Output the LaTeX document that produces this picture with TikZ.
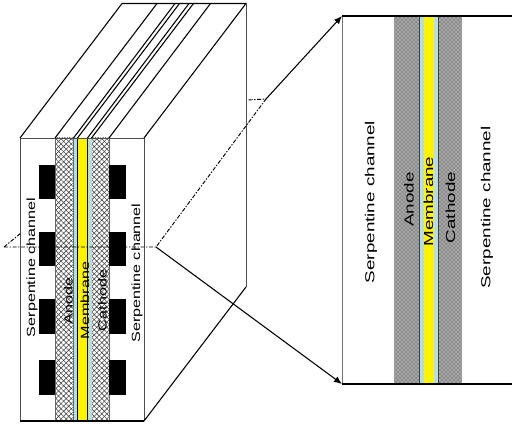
\documentclass[tikz,border=0pt]{standalone}
\usepackage{fontspec}
\setmainfont{Liberation Sans}
\usepackage{tikz}
\usetikzlibrary{arrows.meta,patterns,patterns.meta}

\definecolor{gdlblue}{HTML}{B5DDE3}
\newcommand{\smalltxt}[1]{\fontsize{8.9pt}{10pt}\selectfont\scalebox{1.36}[1]{#1}}
\newcommand{\largetxt}[1]{\fontsize{9.8pt}{11pt}\selectfont\scalebox{1.44}[1]{#1}}

\tikzset{
    edgeline/.style={black, line width=.8pt},
    greyline/.style={black!70, line width=.7pt},
    dashline/.style={black, line width=.7pt, dash pattern=on 3pt off 1.2pt on 1pt off 1.2pt},
    arrowline/.style={black, line width=.8pt, -{Latex[length=6pt,width=5pt]}},
    block/.style={fill=black, draw=none},
    coarse/.style={pattern={Hatch[angle=45,distance=2.7pt,line width=.45pt]}, pattern color=black!70, draw=black!60, line width=.4pt},
    fine/.style={fill=black!45},
    finedots/.style={pattern=crosshatch dots, pattern color=white},
    sidetxt/.style={rotate=90, inner sep=0pt, text=black},
}

\begin{document}
\begin{tikzpicture}[x=.75pt, y=-.75pt]
        \useasboundingbox (0, 0) rectangle (512, 424);

        % block, front face
        \coordinate (f1) at (20, 138);
        \coordinate (f2) at (144, 138);
        \coordinate (f3) at (144, 421);
        \coordinate (f4) at (20, 421);
        \coordinate (b1) at (122, 3.5);
        \coordinate (b2) at (246, 3.5);
        \coordinate (b3) at (246, 287);

        % cut plane and zoom
        \coordinate (cutL) at (4, 247);
        \coordinate (cutR) at (156, 247);
        \coordinate (cutF) at (21, 233);
        \coordinate (cutB) at (266, 99);
        \coordinate (cutE) at (247, 100);
        \coordinate (zoomT) at (342, 16);
        \coordinate (zoomB) at (342, 384);
        \coordinate (zoomTR) at (512, 16);
        \coordinate (zoomBR) at (512, 384);

        % layers of the block
        \filldraw[coarse] (55, 138) rectangle (73.5, 421);
        \filldraw[coarse] (91.5, 138) rectangle (109, 421);
        \fill[gdlblue] (73.5, 138) rectangle (77.5, 421);
        \fill[gdlblue] (87.5, 138) rectangle (91.5, 421);
        \filldraw[fill=yellow, draw=black, line width=.5pt] (77.5, 138) rectangle (87.5, 421);

        % channel ribs
        \fill[block] (39, 165) rectangle (55, 199);
        \fill[block] (39, 232) rectangle (55, 266);
        \fill[block] (39, 299) rectangle (55, 334);
        \fill[block] (39, 360) rectangle (55, 395);
        \fill[block] (109, 165) rectangle (126, 199);
        \fill[block] (109, 232) rectangle (126, 266);
        \fill[block] (109, 299) rectangle (126, 334);
        \fill[block] (109, 360) rectangle (126, 395);

        % block outline
        \draw[greyline] (f1) -- (f2) -- (f3);
        \draw[greyline] (f1) -- (f4);
        \draw[edgeline] (f4) -- (f3);
        \draw[edgeline] (f1) -- (b1) -- (b2) -- (f2);
        \draw[greyline] (b2) -- (b3);
        \draw[edgeline] (b3) -- (f3);
        \draw[edgeline] (55, 138) -- (157, 3.5);
        \draw[edgeline] (73.5, 138) -- (175, 3.5);
        \draw[edgeline] (77.5, 138) -- (179.5, 3.5);
        \draw[edgeline] (87.5, 138) -- (189, 3.5);
        \draw[edgeline] (91.5, 138) -- (193.5, 3.5);
        \draw[edgeline] (109, 138) -- (210.5, 3.5);

        % magnified view
        \fill[fine] (394, 16) rectangle (419, 384);
        \fill[finedots] (394, 16) rectangle (419, 384);
        \fill[fine] (438.5, 16) rectangle (462, 384);
        \fill[finedots] (438.5, 16) rectangle (462, 384);
        \fill[gdlblue] (419, 16) rectangle (424, 384);
        \fill[gdlblue] (433.5, 16) rectangle (438.5, 384);
        \fill[yellow] (424, 16) rectangle (433.5, 384);
        \draw[black!75, line width=.4pt] (419, 16) -- (419, 384);
        \draw[black!75, line width=.4pt] (438.5, 16) -- (438.5, 384);
        \draw[black!55, line width=.7pt] (zoomT) -- (zoomB);
        \draw[edgeline] (zoomT) -- (zoomTR);
        \draw[edgeline] (zoomB) -- (zoomBR);

        % section lines
        \draw[dashline] (cutL) -- (cutR) -- (cutB) -- (cutE);
        \draw[dashline] (cutL) -- (cutF);
        \draw[arrowline] (cutB) -- (zoomT);
        \draw[arrowline] (cutR) -- (zoomB);

        \node[sidetxt] (serpL) at (32, 267.5) {\smalltxt{Serpentine channel}};
        \node[sidetxt] (anodeL) at (68.5, 301) {\smalltxt{Anode}};
        \node[sidetxt] (membL) at (85, 300.5) {\smalltxt{Membrane}};
        \node[sidetxt] (cathL) at (102.5, 300.5) {\smalltxt{Cathode}};
        \node[sidetxt] (serpR) at (137, 273) {\smalltxt{Serpentine channel}};

        \node[sidetxt] (serpA) at (371, 202) {\largetxt{Serpentine channel}};
        \node[sidetxt] (anodeZ) at (409, 199.5) {\largetxt{Anode}};
        \node[sidetxt] (membZ) at (428.5, 201.5) {\largetxt{Membrane}};
        \node[sidetxt] (cathZ) at (450.5, 207.5) {\largetxt{Cathode}};
        \node[sidetxt] (serpB) at (487, 207.5) {\largetxt{Serpentine channel}};
    \end{tikzpicture}
\end{document}
